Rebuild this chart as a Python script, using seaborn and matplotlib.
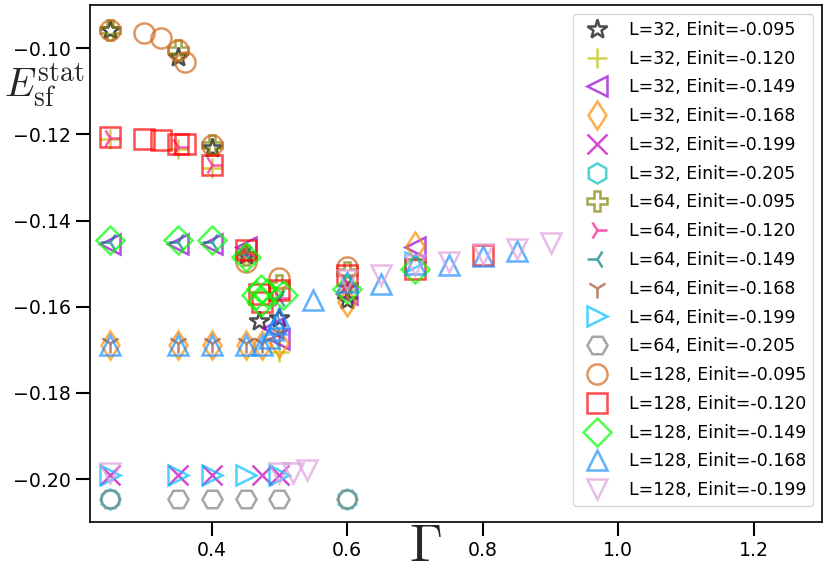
import numpy as np
import matplotlib
matplotlib.use("Agg")
import matplotlib.pyplot as plt
import seaborn as sns

# gamma / stationary energy
g_32_095 = [0.25, 0.35, 0.40, 0.45, 0.47, 0.50, 0.60]
e_32_095 = [-0.0958, -0.1020, -0.1232, -0.1480, -0.1632, -0.1625, -0.1585]

g_32_120 = [0.25, 0.35, 0.40, 0.45, 0.50, 0.60]
e_32_120 = [-0.1210, -0.1233, -0.1278, -0.1475, -0.1705, -0.1560]

g_32_149 = [0.25, 0.35, 0.40, 0.45, 0.49, 0.50, 0.60, 0.70]
e_32_149 = [-0.1455, -0.1455, -0.1455, -0.1462, -0.1650, -0.1675, -0.1570, -0.1462]

g_32_168 = [0.25, 0.35, 0.40, 0.45, 0.475, 0.50, 0.60, 0.70]
e_32_168 = [-0.1689, -0.1689, -0.1689, -0.1689, -0.1689, -0.1685, -0.1590, -0.1460]

g_32_199 = [0.25, 0.35, 0.40, 0.475, 0.50]
e_32_199 = [-0.1991, -0.1991, -0.1991, -0.1991, -0.1991]

g_32_205 = [0.25, 0.60]
e_32_205 = [-0.2047, -0.2047]

g_64_095 = [0.25, 0.35, 0.40, 0.45, 0.50, 0.60]
e_64_095 = [-0.0958, -0.1003, -0.1225, -0.1480, -0.1550, -0.1520]

g_64_120 = [0.25, 0.35, 0.40, 0.45, 0.50, 0.60]
e_64_120 = [-0.1208, -0.1228, -0.1272, -0.1478, -0.1580, -0.1545]

g_64_149 = [0.25, 0.35, 0.40, 0.45, 0.50, 0.60]
e_64_149 = [-0.1450, -0.1450, -0.1450, -0.1478, -0.1580, -0.1550]

g_64_168 = [0.25, 0.35, 0.40, 0.45, 0.475, 0.50, 0.60]
e_64_168 = [-0.1685, -0.1685, -0.1685, -0.1685, -0.1685, -0.1660, -0.1560]

g_64_199 = [0.25, 0.35, 0.40, 0.45, 0.50, 0.70]
e_64_199 = [-0.1991, -0.1991, -0.1991, -0.1991, -0.1991, -0.1495]

g_64_205 = [0.25, 0.35, 0.40, 0.45, 0.50, 0.60]
e_64_205 = [-0.2047, -0.2047, -0.2047, -0.2047, -0.2047, -0.2047]

g_128_095 = [0.25, 0.30, 0.325, 0.35, 0.36, 0.40, 0.45, 0.50, 0.60]
e_128_095 = [-0.0958, -0.0964, -0.0977, -0.1003, -0.1032, -0.1225, -0.1496, -0.1534, -0.1507]

g_128_120 = [0.25, 0.30, 0.325, 0.35, 0.36, 0.40, 0.45, 0.47, 0.475, 0.50, 0.60, 0.70, 0.80]
e_128_120 = [-0.1206, -0.1211, -0.1213, -0.1221, -0.1223, -0.1271, -0.1468, -0.1570,
             -0.1590, -0.1561, -0.1527, -0.1513, -0.1480]

g_128_149 = [0.25, 0.35, 0.40, 0.45, 0.466, 0.473, 0.473, 0.481, 0.505, 0.60, 0.70]
e_128_149 = [-0.1445, -0.1445, -0.1445, -0.1484, -0.1573, -0.1558, -0.1589, -0.1569,
             -0.1573, -0.1558, -0.1513]

g_128_168 = [0.25, 0.35, 0.40, 0.45, 0.475, 0.485, 0.49, 0.495, 0.50, 0.55, 0.60,
             0.65, 0.70, 0.75, 0.80, 0.85]
e_128_168 = [-0.1689, -0.1689, -0.1689, -0.1689, -0.1689, -0.1672, -0.1655, -0.1640,
             -0.1627, -0.1585, -0.1542, -0.1548, -0.1500, -0.1503, -0.1482, -0.1470]

g_128_199 = [0.25, 0.50, 0.52, 0.54, 0.60, 0.65, 0.70, 0.75, 0.80, 0.85, 0.90]
e_128_199 = [-0.1985, -0.1985, -0.1985, -0.1980, -0.1538, -0.1527, -0.1503, -0.1496,
             -0.1478, -0.1465, -0.1453]

labels = ["L=32, Einit=-0.095", "L=32, Einit=-0.120", "L=32, Einit=-0.149",
          "L=32, Einit=-0.168", "L=32, Einit=-0.199", "L=32, Einit=-0.205",
          "L=64, Einit=-0.095", "L=64, Einit=-0.120", "L=64, Einit=-0.149",
          "L=64, Einit=-0.168", "L=64, Einit=-0.199", "L=64, Einit=-0.205",
          "L=128, Einit=-0.095", "L=128, Einit=-0.120", "L=128, Einit=-0.149",
          "L=128, Einit=-0.168", "L=128, Einit=-0.199"]

gammas = [g_32_095, g_32_120, g_32_149, g_32_168, g_32_199, g_32_205,
          g_64_095, g_64_120, g_64_149, g_64_168, g_64_199, g_64_205,
          g_128_095, g_128_120, g_128_149, g_128_168, g_128_199]
energies = [e_32_095, e_32_120, e_32_149, e_32_168, e_32_199, e_32_205,
            e_64_095, e_64_120, e_64_149, e_64_168, e_64_199, e_64_205,
            e_128_095, e_128_120, e_128_149, e_128_168, e_128_199]

markers = ['*', '+', '<', 'd', 'x', 'h', 'P', '4', '3', '1', '>', 'H',
           'o', 's', 'D', '^', 'v']
colors = ['k', 'y', 'darkviolet', 'darkorange', 'm', 'c', 'olive', 'deeppink',
          'teal', 'sienna', 'deepskyblue', 'gray',
          'chocolate', 'r', 'lime', 'dodgerblue', 'plum']

sns.set_style("ticks", {"axes.edgecolor": "black", "xtick.color": "black",
                        "ytick.color": "black", "text.color": "black"})
plt.rcParams['mathtext.fontset'] = 'cm'
plt.rcParams['font.family'] = ['DejaVu Sans']

fig, ax = plt.subplots(figsize=(8.3, 5.86), dpi=100)
fig.subplots_adjust(left=0.108, right=0.990, bottom=0.109, top=0.991)

for g, e, m, c, lab in zip(gammas, energies, markers, colors, labels):
    sns.lineplot(x=g, y=e, ax=ax, estimator=None, sort=False, linestyle='',
                 marker=m, markersize=14.5, mfc='none', mec=c, mew=1.8,
                 color=c, alpha=0.7, label=lab)

ax.set_xlim(0.22, 1.30)
ax.set_ylim(-0.21, -0.09)
ax.set_xticks([0.4, 0.6, 0.8, 1.0, 1.2])
ax.set_yticks([-0.20, -0.18, -0.16, -0.14, -0.12, -0.10])
ax.tick_params(axis='both', which='major', length=10, width=1.5, labelsize=13.6,
               direction='out')
for sp in ax.spines.values():
    sp.set_linewidth(1.2)

ax.set_xlabel(r'$\Gamma$', fontsize=38, va='center', ha='center')
ax.xaxis.set_label_coords(0.458, -0.046)
ax.set_ylabel(r'$E_{\rm sf}^{\rm stat}$', fontsize=28.5, rotation=0,
              va='center', ha='center')
ax.yaxis.set_label_coords(-0.0615, 0.845)

ax.legend(loc='upper right', fontsize=12.5, labelspacing=0.62)

plt.savefig("out.png", dpi=100)
